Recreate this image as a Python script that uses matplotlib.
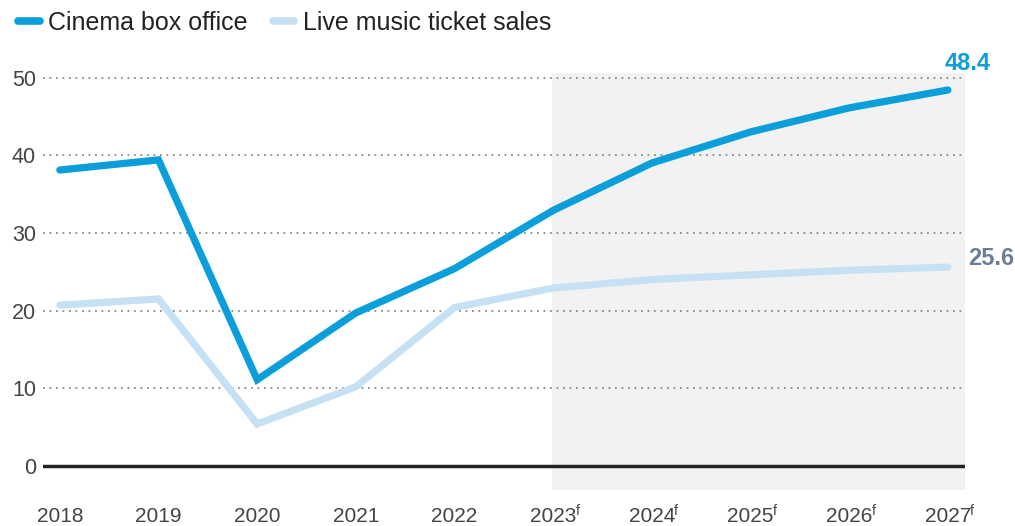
import matplotlib
matplotlib.use("Agg")
import matplotlib.pyplot as plt
from matplotlib.lines import Line2D

plt.rcParams["font.family"] = ["Liberation Sans", "DejaVu Sans"]

# ── Data ─────────────────────────────────────────────────────────────────────
years = ["2018", "2019", "2020", "2021", "2022", "2023", "2024", "2025", "2026", "2027"]
forecast = [False, False, False, False, False, True, True, True, True, True]
cinema = [38.1, 39.4, 11.1, 19.7, 25.4, 32.9, 39.0, 43.0, 46.1, 48.4]
live_music = [20.7, 21.5, 5.4, 10.2, 20.4, 22.9, 24.0, 24.6, 25.2, 25.6]

CINEMA_COLOR = "#0a9fda"
LIVE_COLOR = "#c6e1f4"
TEXT_COLOR = "#444444"

fig = plt.figure(figsize=(10.15, 5.26), dpi=100)
ax = fig.add_axes([0.0424, 0.0684, 0.908, 0.793])

x = list(range(len(years)))

# forecast shading
first_f = forecast.index(True)
ax.axvspan(first_f - 0.01, len(years) - 1 + 0.17, color="#f2f2f2", zorder=0, lw=0)

# gridlines
for yv in [10, 20, 30, 40, 50]:
    ax.axhline(yv, color="#8a8a8a", lw=1.3, ls=(0, (1, 2.6)), zorder=1)
ax.axhline(0, color="#222222", lw=2.5, zorder=2)

ax.plot(x, live_music, color=LIVE_COLOR, lw=5.2, solid_capstyle="round",
        solid_joinstyle="miter", zorder=3)
ax.plot(x, cinema, color=CINEMA_COLOR, lw=5.2, solid_capstyle="round",
        solid_joinstyle="miter", zorder=4)

ax.set_xlim(-0.17, len(years) - 1 + 0.17)
ax.set_ylim(-3.1, 50.6)

for s in ax.spines.values():
    s.set_visible(False)

ax.set_yticks([0, 10, 20, 30, 40, 50])
ax.set_yticklabels(["0", "10", "20", "30", "40", "50"])
ax.tick_params(axis="y", length=0, pad=5, labelsize=15.5, labelcolor=TEXT_COLOR)

ax.set_xticks(x)
ax.set_xticklabels(years)
ax.tick_params(axis="x", length=0, pad=12, labelsize=15, labelcolor=TEXT_COLOR)

# superscript "f" on forecast years
for xi, f in zip(x, forecast):
    if f:
        ax.annotate("f", (xi, 0), xycoords=("data", "axes fraction"),
                    xytext=(16, -15), textcoords="offset points",
                    ha="left", va="center", fontsize=10, color=TEXT_COLOR,
                    annotation_clip=False)

# end labels
ax.annotate(f"{cinema[-1]:.1f}", (x[-1], cinema[-1]), xytext=(14, 19),
            textcoords="offset points", ha="center", va="center",
            fontsize=17, fontweight="bold", color=CINEMA_COLOR,
            annotation_clip=False)
ax.annotate(f"{live_music[-1]:.1f}", (x[-1], live_music[-1]), xytext=(31, 6),
            textcoords="offset points", ha="center", va="center",
            fontsize=17, fontweight="bold", color="#6b7f94",
            annotation_clip=False)

handles = [
    Line2D([0], [0], color=CINEMA_COLOR, lw=5.5, solid_capstyle="round"),
    Line2D([0], [0], color=LIVE_COLOR, lw=5.5, solid_capstyle="round"),
]
fig.legend(handles, ["Cinema box office", "Live music ticket sales"],
           loc="upper left", bbox_to_anchor=(-0.004, 1.022), ncol=2, frameon=False,
           fontsize=18, handlelength=0.85, handletextpad=0.35, columnspacing=1.0,
           labelcolor="#222222")

fig.savefig("out.png", dpi=100)
